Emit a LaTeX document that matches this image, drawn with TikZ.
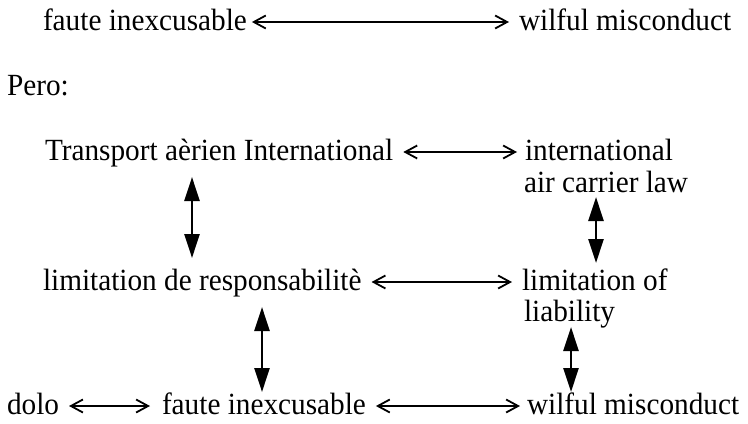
\documentclass[tikz,border=0pt]{standalone}
\usepackage{fontspec}
\setmainfont{Liberation Serif}[FakeStretch=0.95]
\usetikzlibrary{arrows.meta,calc}
\begin{document}
\begin{tikzpicture}[x=0.5pt,y=-0.5pt,
  txt/.style={inner sep=0pt,outer sep=0pt,anchor=base west,font=\fontsize{15.4pt}{18pt}\selectfont},
  harrow/.style={line width=0.6pt,{Straight Barb[length=6pt,width=6.5pt,line width=0.9pt]}-{Straight Barb[length=6pt,width=6.5pt,line width=0.9pt]}},
  varrow/.style={line width=1.3pt,{Triangle[length=12pt,width=7.5pt]}-{Triangle[length=12pt,width=7.5pt]}}]
\useasboundingbox (0,0) rectangle (748,423);
% texts
\node[txt] (fi1) at (43,30) {faute inexcusable};
\node[txt] (wm1) at (519,30) {wilful misconduct};
\node[txt] (pero) at (7,95) {Pero:};
\node[txt] (tai) at (45,160) {Transport aèrien International};
\node[txt] (intl) at (525,160) {international};
\node[txt] (acl) at (524,192) {air carrier law};
\node[txt] (lr) at (43,290) {limitation de responsabilitè};
\node[txt] (lo) at (522,290) {limitation of};
\node[txt] (liab) at (524,321) {liability};
\node[txt] (dolo) at (7,414) {dolo};
\node[txt] (fi2) at (162,414) {faute inexcusable};
\node[txt] (wm2) at (527,414) {wilful misconduct};
% horizontal connectors
\draw[harrow] ($(fi1.base east)+(5,-8)$) -- ($(wm1.base west)+(-10,-8)$);
\draw[harrow] ($(tai.base east)+(10,-8)$) -- ($(intl.base west)+(-8,-8)$);
\draw[harrow] ($(lr.base east)+(10,-8)$) -- ($(lo.base west)+(-10,-8)$);
\draw[harrow] ($(dolo.base east)+(10,-8)$) -- ($(fi2.base west)+(-12,-8)$);
\draw[harrow] ($(fi2.base east)+(10,-8)$) -- ($(wm2.base west)+(-7,-8)$);
% vertical connectors
\draw[varrow] ($(tai.base -| 192,0)+(0,17)$) -- ($(lr.base -| 192,0)+(0,-32)$);
\draw[varrow] ($(acl.base -| 596,0)+(0,5)$) -- ($(lo.base -| 596,0)+(0,-27)$);
\draw[varrow] ($(lr.base -| 262,0)+(0,17)$) -- ($(fi2.base -| 262,0)+(0,-22)$);
\draw[varrow] ($(liab.base -| 571,0)+(0,6)$) -- ($(wm2.base -| 571,0)+(0,-22)$);
\end{tikzpicture}
\end{document}
